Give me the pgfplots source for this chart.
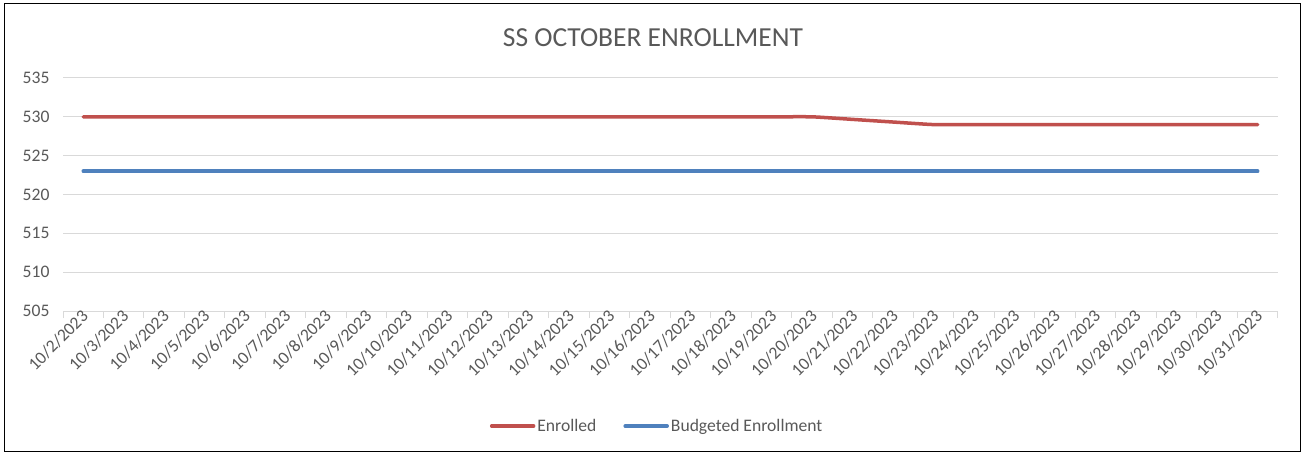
\documentclass[border=0pt]{standalone}
\usepackage{fontspec}
\setmainfont{Carlito}
\usepackage{pgfplots}
\pgfplotsset{compat=1.18}
\definecolor{enr}{RGB}{192,80,77}
\definecolor{bud}{RGB}{79,129,189}
\definecolor{txt}{RGB}{89,89,89}
\definecolor{gridc}{RGB}{217,217,217}
\begin{document}
\begin{tikzpicture}
\useasboundingbox (0,0) rectangle (1306bp,456bp);
\fill[white] (0,0) rectangle (1306bp,456bp);
\draw[black, line width=1bp] (4bp,4bp) rectangle (1300bp,452bp);
\node[text=txt, font=\fontsize{27.5bp}{32bp}\selectfont] at (653bp,418bp) {SS OCTOBER ENROLLMENT};
\begin{axis}[
  at={(63bp,145bp)}, anchor=south west,
  scale only axis, width=1215bp, height=233bp,
  xmin=-0.5, xmax=29.5, ymin=505, ymax=535,
  ytick={505,510,...,535},
  ymajorgrids, grid style={gridc, line width=1bp},
  axis x line*=bottom, axis y line*=left,
  x axis line style={gridc, line width=1bp, -},
  y axis line style={draw=none, -},
  xtick={0,...,29},
  xticklabels={10/2/2023,10/3/2023,10/4/2023,10/5/2023,10/6/2023,10/7/2023,10/8/2023,10/9/2023,10/10/2023,10/11/2023,10/12/2023,10/13/2023,10/14/2023,10/15/2023,10/16/2023,10/17/2023,10/18/2023,10/19/2023,10/20/2023,10/21/2023,10/22/2023,10/23/2023,10/24/2023,10/25/2023,10/26/2023,10/27/2023,10/28/2023,10/29/2023,10/30/2023,10/31/2023},
  minor xtick={-0.5,0.5,...,29.5},
  tick align=outside,
  major tick length=0pt,
  minor tick length=7bp,
  minor tick style={gridc, line width=1bp},
  /pgf/number format/assume math mode=true,
  ticklabel style={text=txt, font=\fontsize{17.6bp}{21bp}\selectfont},
  yticklabel style={xshift=-10bp},
  xticklabel style={rotate=45, anchor=east, xshift=3bp, yshift=-3bp},
  legend columns=2,
  legend style={draw=none, fill=none, at={(0.489,-0.494)}, anchor=center, font=\fontsize{17.6bp}{21bp}\selectfont, text=txt,
    /tikz/every even column/.append style={column sep=25bp}},
  legend image code/.code={\draw[#1] (0bp,0bp) -- (42bp,0bp);},
  clip=false,
]
\addplot[enr, line width=3.5bp, line cap=round, smooth, tension=0.3] coordinates {
(0,530)(1,530)(2,530)(3,530)(4,530)(5,530)(6,530)(7,530)(8,530)(9,530)
(10,530)(11,530)(12,530)(13,530)(14,530)(15,530)(16,530)(17,530)(18,530)(19,529.67)
(20,529.33)(21,529)(22,529)(23,529)(24,529)(25,529)(26,529)(27,529)(28,529)(29,529)};
\addlegendentry{Enrolled}
\addplot[bud, line width=3.5bp, line cap=round] coordinates {
(0,523)(1,523)(2,523)(3,523)(4,523)(5,523)(6,523)(7,523)(8,523)(9,523)
(10,523)(11,523)(12,523)(13,523)(14,523)(15,523)(16,523)(17,523)(18,523)(19,523)
(20,523)(21,523)(22,523)(23,523)(24,523)(25,523)(26,523)(27,523)(28,523)(29,523)};
\addlegendentry{Budgeted Enrollment}
\end{axis}
\end{tikzpicture}
\end{document}
